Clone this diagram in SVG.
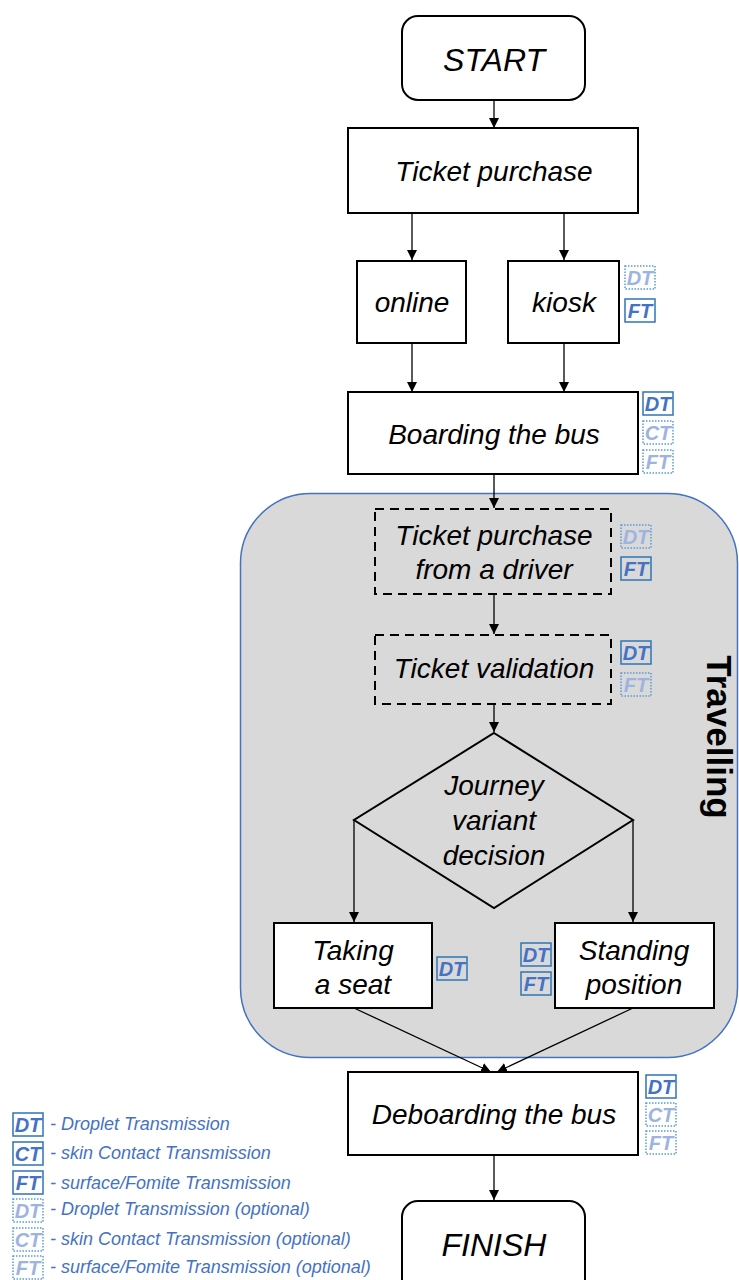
<svg xmlns="http://www.w3.org/2000/svg" width="739" height="1280" viewBox="0 0 739 1280">
<defs>
<marker id="ah" viewBox="0 0 10 10" refX="10" refY="5" markerWidth="10" markerHeight="10" markerUnits="userSpaceOnUse" orient="auto">
<path d="M0,0 L10,5 L0,10 z" fill="#000"/>
</marker>
<g id="bDT"><rect class="bs" width="30" height="23"/><text class="bt" x="15" y="19">DT</text></g>
<g id="bCT"><rect class="bs" width="30" height="23"/><text class="bt" x="15" y="19">CT</text></g>
<g id="bFT"><rect class="bs" width="30" height="23"/><text class="bt" x="15" y="19">FT</text></g>
<g id="oDT"><rect class="os" width="30" height="23"/><text class="ot" x="15" y="19">DT</text></g>
<g id="oCT"><rect class="os" width="30" height="23"/><text class="ot" x="15" y="19">CT</text></g>
<g id="oFT"><rect class="os" width="30" height="23"/><text class="ot" x="15" y="19">FT</text></g>
</defs>
<style>
.box{fill:#fff;stroke:#000;stroke-width:2}
.dbox{fill:none;stroke:#000;stroke-width:2;stroke-dasharray:9 6}
.t{font-family:"Liberation Sans",Arial,sans-serif;font-style:italic;font-size:28px;fill:#000;text-anchor:middle}
.big{font-size:32px}
.bs{fill:none;stroke:#2E75B6;stroke-width:1.5}
.os{fill:none;stroke:#5B9BD5;stroke-width:1.5;stroke-dasharray:1.5 1.5}
.bt{font-family:"Liberation Sans",Arial,sans-serif;font-style:italic;font-weight:bold;font-size:20px;fill:#4472C4;text-anchor:middle}
.ot{font-family:"Liberation Sans",Arial,sans-serif;font-style:italic;font-weight:bold;font-size:20px;fill:#9DB4E0;text-anchor:middle}
.lg{font-family:"Liberation Sans",Arial,sans-serif;font-style:italic;font-size:18px;fill:#4472C4}
.c{fill:none;stroke:#000;stroke-width:1.3;marker-end:url(#ah)}
.tr{font-family:"Liberation Sans",Arial,sans-serif;font-weight:bold;font-size:35px;fill:#000;text-anchor:middle}
</style>
<rect width="739" height="1280" fill="#fff"/>

<g id="travelling">
<rect x="240.5" y="493.5" width="497" height="564" rx="70" ry="70" fill="#D9D9D9" stroke="#4472C4" stroke-width="1.5"/>
<text class="tr" transform="translate(707,737) rotate(90)">Travelling</text>
</g>

<g id="connectors">
<path class="c" d="M494,100 V128"/>
<path class="c" d="M412,213 V260"/>
<path class="c" d="M564,213 V260"/>
<path class="c" d="M412,343 V392"/>
<path class="c" d="M564,343 V392"/>
<path class="c" d="M494,474 V508"/>
<path class="c" d="M494,594 V634"/>
<path class="c" d="M494,704 V732"/>
<path class="c" d="M354,820 V922"/>
<path class="c" d="M633,820 V922"/>
<path class="c" d="M354,1008 L491,1072"/>
<path class="c" d="M633,1008 L497,1072"/>
<path class="c" d="M494,1155 V1200"/>
</g>

<g id="start"><rect class="box" x="402" y="16" width="183" height="84" rx="16"/><text class="t big" x="494" y="71">START</text></g>
<g id="ticket-purchase"><rect class="box" x="348" y="128" width="290" height="85"/><text class="t" x="494" y="181">Ticket purchase</text></g>
<g id="online"><rect class="box" x="357" y="261" width="109" height="82"/><text class="t" x="412" y="312">online</text></g>
<g id="kiosk"><rect class="box" x="508" y="261" width="111" height="82"/><text class="t" x="564" y="312">kiosk</text>
<use href="#oDT" x="625" y="266"/><use href="#bFT" x="625" y="299"/></g>
<g id="boarding"><rect class="box" x="348" y="392" width="290" height="82"/><text class="t" x="494" y="444">Boarding the bus</text>
<use href="#bDT" x="643" y="392"/><use href="#oCT" x="643" y="421"/><use href="#oFT" x="643" y="450"/></g>
<g id="ticket-driver"><rect class="dbox" x="375" y="509" width="236" height="85"/><text class="t" x="494" y="545">Ticket purchase</text><text class="t" x="494" y="579">from a driver</text>
<use href="#oDT" x="621" y="525"/><use href="#bFT" x="621" y="557"/></g>
<g id="ticket-validation"><rect class="dbox" x="375" y="635" width="236" height="69"/><text class="t" x="494" y="678">Ticket validation</text>
<use href="#bDT" x="621" y="641"/><use href="#oFT" x="621" y="673"/></g>
<g id="decision"><path d="M494,733 L633,820 L494,908 L354,820 Z" fill="none" stroke="#000" stroke-width="2"/>
<text class="t" x="494" y="795">Journey</text><text class="t" x="494" y="830">variant</text><text class="t" x="494" y="865">decision</text></g>
<g id="seat"><rect class="box" x="274" y="923" width="158" height="85"/><text class="t" x="353" y="960">Taking</text><text class="t" x="353" y="994">a seat</text>
<use href="#bDT" x="437" y="957"/></g>
<g id="standing"><rect class="box" x="555" y="923" width="159" height="85"/><text class="t" x="634" y="960">Standing</text><text class="t" x="634" y="994">position</text>
<use href="#bDT" x="521" y="943"/><use href="#bFT" x="521" y="972"/></g>
<g id="deboarding"><rect class="box" x="348" y="1072" width="290" height="83"/><text class="t" x="494" y="1124">Deboarding the bus</text>
<use href="#bDT" x="646" y="1075"/><use href="#oCT" x="646" y="1103"/><use href="#oFT" x="646" y="1131"/></g>
<g id="finish"><rect class="box" x="402" y="1201" width="183" height="95" rx="16"/><text class="t big" x="494" y="1256">FINISH</text></g>

<g id="legend">
<use href="#bDT" x="13" y="1113"/><text class="lg" x="50" y="1130">- Droplet Transmission</text>
<use href="#bCT" x="13" y="1142"/><text class="lg" x="50" y="1159">- skin Contact Transmission</text>
<use href="#bFT" x="13" y="1171"/><text class="lg" x="50" y="1189">- surface/Fomite Transmission</text>
<use href="#oDT" x="13" y="1199"/><text class="lg" x="50" y="1215">- Droplet Transmission (optional)</text>
<use href="#oCT" x="13" y="1228"/><text class="lg" x="50" y="1245">- skin Contact Transmission (optional)</text>
<use href="#oFT" x="13" y="1256"/><text class="lg" x="50" y="1273">- surface/Fomite Transmission (optional)</text>
</g>
</svg>
